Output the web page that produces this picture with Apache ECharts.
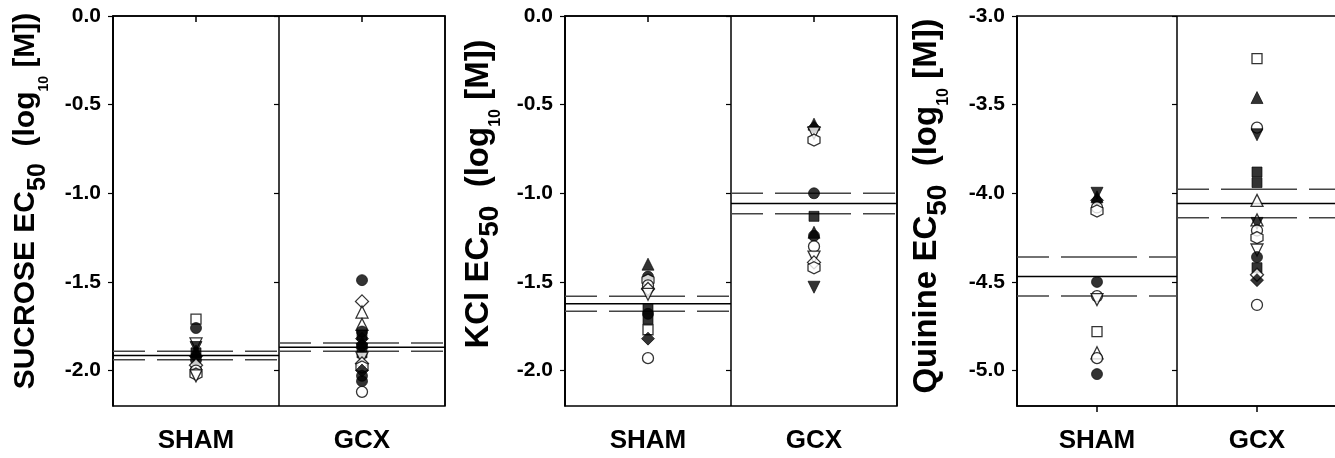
<!DOCTYPE html>
<html><head><meta charset="utf-8">
<script src="https://cdn.jsdelivr.net/npm/echarts@6/dist/echarts.min.js"></script>
<style>html,body{margin:0;padding:0;background:#fff}#c{width:1335px;height:458px}</style>
</head><body><div id="c"></div>
<script>
// ---------- DATA ----------
const groups = ['SHAM', 'GCX'];
const ticksA = [-2, -1.5, -1, -0.5, 0];          // sucrose & KCl tick labels
const ticksQ = [-5, -4.5, -4, -3.5, -3];         // quinine tick labels

// marker codes: f=filled, o=open; c=circle, t=triangle up, v=triangle down, s=square, d=diamond, h=hexagon
const sucShamVals = [-1.71, -1.76, -1.85, -1.87, -1.89, -1.90, -1.92, -1.94, -1.96, -1.97, -2.00, -2.02, -2.03];
const sucShamSym  = ['os', 'fc', 'ov', 'fv', 'ft', 'fs', 'fd', 'fc', 'ft', 'od', 'oc', 'oh', 'ov'];
const sucGcxVals  = [-1.49, -1.61, -1.67, -1.74, -1.78, -1.80, -1.82, -1.84, -1.86, -1.88, -1.90, -1.93, -1.96, -1.98, -2.00, -2.03, -2.06, -2.12];
const sucGcxSym   = ['fc', 'od', 'ot', 'ot', 'fc', 'fs', 'fd', 'ft', 'fc', 'fv', 'fs', 'ov', 'od', 'oh', 'fd', 'fc', 'fc', 'oc'];
const sucMean = [-1.915, -1.868];
const sucSem  = [0.024, 0.023];

const kclShamVals = [-1.40, -1.47, -1.49, -1.52, -1.54, -1.57, -1.65, -1.68, -1.71, -1.77, -1.82, -1.93];
const kclShamSym  = ['ft', 'fc', 'oh', 'oc', 'od', 'ov', 'fs', 'fc', 'fs', 'os', 'fd', 'oc'];
const kclGcxVals  = [-0.61, -0.63, -0.66, -0.70, -1.00, -1.13, -1.22, -1.24, -1.30, -1.36, -1.39, -1.42, -1.53];
const kclGcxSym   = ['ft', 'fd', 'ov', 'oh', 'fc', 'fs', 'ft', 'fc', 'oc', 'ov', 'od', 'oh', 'fv'];
const kclMean = [-1.623, -1.058];
const kclSem  = [0.042, 0.058];

const quiShamVals = [-4.00, -4.02, -4.04, -4.08, -4.10, -4.50, -4.58, -4.60, -4.78, -4.90, -4.93, -5.02];
const quiShamSym  = ['fv', 'ft', 'fd', 'oc', 'oh', 'fc', 'oc', 'ov', 'os', 'ot', 'oc', 'fc'];
const quiGcxVals  = [-3.24, -3.46, -3.63, -3.67, -3.88, -3.94, -4.04, -4.15, -4.17, -4.21, -4.25, -4.32, -4.36, -4.42, -4.46, -4.49, -4.63];
const quiGcxSym   = ['os', 'ft', 'oc', 'fv', 'fs', 'fs', 'ot', 'ot', 'fv', 'oc', 'oh', 'ov', 'fc', 'fs', 'od', 'fd', 'oc'];
const quiMean = [-4.469, -4.058];
const quiSem  = [0.11, 0.08];

// ---------- RENDER ----------
const FF = '"Liberation Sans", Arial, sans-serif';
const HEX = 'path://M0,-1L0.866,-0.5L0.866,0.5L0,1L-0.866,0.5L-0.866,-0.5Z';
function markerItem(g, v, code) {
  const filled = code[0] === 'f';
  const k = code[1];
  let symbol = 'circle', rot = 0, size = 11;
  if (k === 't') { symbol = 'triangle'; size = 12; }
  if (k === 'v') { symbol = 'triangle'; rot = 180; size = 12; }
  if (k === 's') { symbol = 'rect'; size = 10; }
  if (k === 'd') { symbol = 'diamond'; size = 13; }
  if (k === 'h') { symbol = HEX; size = 12; }
  return {
    value: [g, v], symbol: symbol, symbolRotate: rot, symbolSize: size,
    itemStyle: filled ? { color: '#000', borderColor: '#000', borderWidth: 0.8 }
                      : { color: '#fff', borderColor: '#000', borderWidth: 1.3 }
  };
}
function titleRich(fs) {
  return {
    t: { fontFamily: FF, fontWeight: 'bold', fontSize: fs, lineHeight: 50, color: '#000' },
    s: { fontFamily: FF, fontWeight: 'bold', fontSize: Math.round(fs * 0.84), lineHeight: 30, verticalAlign: 'bottom', color: '#000' },
    u: { fontFamily: FF, fontWeight: 'bold', fontSize: Math.round(fs * 0.47), lineHeight: 12, verticalAlign: 'bottom', color: '#000' }
  };
}
const panels = [
  { left: 113, width: 332, min: -2.2, max: 0, ticks: ticksA, gap: 62, fs: 30, shift: 20,
    name: '{t|SUCROSE EC}{s|50}{t|  (log}{u|10}{t| [M])}',
    vals: [sucShamVals, sucGcxVals], syms: [sucShamSym, sucGcxSym], mean: sucMean, sem: sucSem },
  { left: 565, width: 332, min: -2.2, max: 0, ticks: ticksA, gap: 61, fs: 33, shift: 34,
    name: '{t|KCl EC}{s|50}{t|  (log}{u|10}{t| [M])}',
    vals: [kclShamVals, kclGcxVals], syms: [kclShamSym, kclGcxSym], mean: kclMean, sem: kclSem },
  { left: 1017, width: 320, min: -5.2, max: -3, ticks: ticksQ, gap: 65, fs: 33, shift: 10,
    name: '{t|Quinine EC}{s|50}{t|  (log}{u|10}{t| [M])}',
    vals: [quiShamVals, quiGcxVals], syms: [quiShamSym, quiGcxSym], mean: quiMean, sem: quiSem }
];
const option = { animation: false, backgroundColor: '#fff', grid: [], xAxis: [], yAxis: [], series: [] };
panels.forEach((p, i) => {
  option.grid.push({ left: p.left, top: 16, width: p.width, height: 390, show: true,
    borderColor: '#000', borderWidth: 1.5, backgroundColor: '#fff', containLabel: false, outerBoundsMode: 'none' });
  option.xAxis.push({ gridIndex: i, type: 'category', data: groups, boundaryGap: true,
    axisLine: { show: true, lineStyle: { color: '#000', width: 1.5 } },
    axisTick: { show: true, alignWithLabel: true, length: 6, lineStyle: { color: '#000', width: 1.5 } },
    axisLabel: { fontFamily: FF, fontWeight: 'bold', fontSize: 26, color: '#000', margin: 22 },
    splitLine: { show: true, interval: 0, lineStyle: { color: '#000', width: 1.5 } } });
  option.xAxis.push({ gridIndex: i, type: 'value', min: 0, max: 2, show: false });
  option.yAxis.push({ gridIndex: i, type: 'value', min: p.min, max: p.max, position: 'left',
    axisLine: { show: true, lineStyle: { color: '#000', width: 1.5 } },
    axisTick: { show: true, length: 5, customValues: p.ticks, lineStyle: { color: '#000', width: 1.2 } },
    axisLabel: { customValues: p.ticks, formatter: v => v.toFixed(1), fontFamily: FF, fontWeight: 'bold', fontSize: 21, color: '#000', margin: 12 },
    splitLine: { show: false },
    name: p.name, nameLocation: 'middle', nameRotate: 90, nameGap: p.gap,
    nameTextStyle: { rich: titleRich(p.fs), padding: [0, 0, 0, p.shift] } });
  option.yAxis.push({ gridIndex: i, type: 'value', min: p.min, max: p.max, position: 'right', offset: -p.width / 2,
    axisLine: { show: false },
    axisTick: { show: true, inside: true, length: 5, customValues: p.ticks, lineStyle: { color: '#000', width: 1.2 } },
    axisLabel: { show: false }, splitLine: { show: false } });
  [0, 1].forEach(g => {
    const m = p.mean[g], s = p.sem[g];
    [[m + s, true], [m - s, true], [m, false]].forEach(([y, dashed]) => {
      option.series.push({ type: 'line', xAxisIndex: 2 * i + 1, yAxisIndex: 2 * i, silent: true,
        symbol: 'none', z: 3, data: [[g, y], [g + 1, y]],
        lineStyle: dashed ? { color: '#444', width: 1.5, type: [32, 12, 76, 12] } : { color: '#000', width: 1.5 } });
    });
    option.series.push({ type: 'scatter', xAxisIndex: 2 * i, yAxisIndex: 2 * i, z: 5, silent: true,
      data: p.vals[g].map((v, k) => markerItem(g, v, p.syms[g][k])) });
  });
});
const chart = echarts.init(document.getElementById('c'), null, { renderer: 'canvas' });
chart.setOption(option);
</script></body></html>
